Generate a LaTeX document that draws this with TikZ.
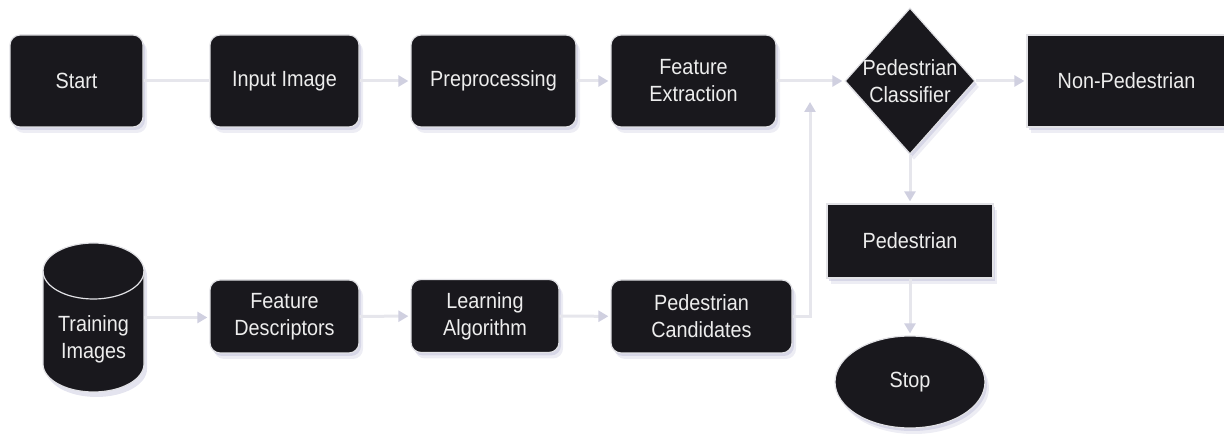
\documentclass[tikz,border=0pt]{standalone}
\usepackage{fontspec}
\setmainfont{Liberation Sans}[FakeStretch=0.9]
\usetikzlibrary{shapes.geometric,shadows,arrows.meta}
\definecolor{boxfill}{HTML}{19181D}
\definecolor{edgec}{HTML}{E2E2E6}
\definecolor{txtc}{HTML}{EDEDED}
\definecolor{linec}{HTML}{E6E6EC}
\definecolor{headc}{HTML}{D0D0E0}
\definecolor{shc}{HTML}{C4C4DC}
\begin{document}
\begin{tikzpicture}[x=1pt,y=-1pt,
  every node/.style={font=\fontsize{22}{27}\selectfont, text=txtc, align=center},
  softshade/.style={
    drop shadow={shadow xshift=2pt,shadow yshift=-3pt,fill=shc,opacity=.55},
    drop shadow={shadow xshift=4pt,shadow yshift=-6pt,fill=shc,opacity=.3}},
  box/.style={draw=edgec, line width=1.2pt, fill=boxfill, softshade, inner sep=0pt},
  rbox/.style={box, rectangle, rounded corners=10pt},
  sbox/.style={box, rectangle},
  conn/.style={draw=linec, line width=3pt},
  arr/.style={conn, shorten >=2pt, -{Triangle[length=10pt,width=11pt,color=headc,fill=headc]}}]
\useasboundingbox (0,0) rectangle (1224,435);

% upper row
\node[rbox, minimum width=133pt, minimum height=92pt] (start) at (76.5,81) {Start};
\node[rbox, minimum width=149pt, minimum height=92pt] (input) at (284.5,81) {Input Image};
\node[rbox, minimum width=165pt, minimum height=92pt] (prep) at (493.5,81) {Preprocessing};
\node[rbox, minimum width=165pt, minimum height=92pt] (featx) at (693.5,81) {Feature\\Extraction};
\node[box, diamond, minimum width=130pt, minimum height=146pt,
      label={[name=clstext]center:Pedestrian\\Classifier}] (cls) at (910,81) {};
\node[sbox, minimum width=199pt, minimum height=92pt] (nonped) at (1126.5,81) {Non-Pedestrian};

% right column
\node[sbox, minimum width=166pt, minimum height=74pt] (ped) at (910,241) {Pedestrian};
\node[box, ellipse, minimum width=150pt, minimum height=92pt] (stop) at (910,382) {Stop};

% training database (cylinder)
\node[minimum width=101pt, minimum height=149pt, inner sep=0pt] (train) at (93.5,317.5) {};
\fill[shc, opacity=.45, shift={(3,5)}]
  (43,271) -- (43,364) arc[start angle=180, end angle=0, x radius=50.5, y radius=28]
  -- (144,271) arc[start angle=0, end angle=-180, x radius=50.5, y radius=28] -- cycle;
\draw[draw=edgec, line width=1.2pt, fill=boxfill]
  (43,271) -- (43,364) arc[start angle=180, end angle=0, x radius=50.5, y radius=28]
  -- (144,271) arc[start angle=0, end angle=-180, x radius=50.5, y radius=28] -- cycle;
\draw[draw=edgec, line width=1.2pt]
  (43,271) arc[start angle=180, end angle=0, x radius=50.5, y radius=28];
\node (traintext) at (93.5,339) {Training\\Images};

% lower row
\node[rbox, minimum width=149pt, minimum height=73pt] (featd) at (284.5,316.5) {Feature\\Descriptors};
\node[rbox, minimum width=148pt, minimum height=73pt] (learn) at (485,316) {Learning\\Algorithm};
\node[rbox, minimum width=181pt, minimum height=73pt] (cand) at (701.5,316.5) {Pedestrian\\Candidates};

% connectors
\coordinate (join) at (810,100);
\draw[conn] (start) -- (input);
\draw[arr] (input) -- (prep);
\draw[arr] (prep) -- (featx);
\draw[arr] (featx) -- (cls);
\draw[arr] (cls) -- (nonped);
\draw[arr] (cls) -- (ped);
\draw[arr] (ped) -- (stop);
\draw[arr] (train.east) -- (train.east -| featd.west);
\draw[arr] (featd) -- (learn);
\draw[arr] (learn) -- (cand);
\draw[arr] (cand.east) -| (join);
\end{tikzpicture}
\end{document}
